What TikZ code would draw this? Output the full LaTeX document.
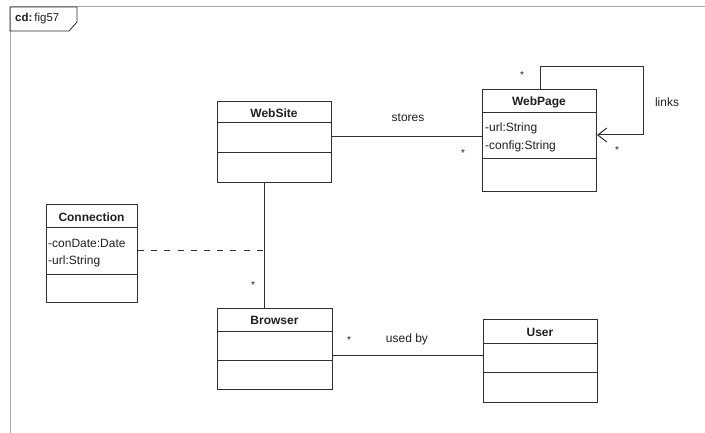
\documentclass[tikz,border=0pt]{standalone}
\usepackage{fontspec}
\setmainfont{Liberation Sans}
\usetikzlibrary{arrows.meta,calc}
\definecolor{edge}{HTML}{303030}
\definecolor{framegray}{HTML}{A8A8A8}
\definecolor{txt}{HTML}{202020}
\tikzset{
  classbox/.style={draw=edge, line width=1pt, inner sep=0pt, anchor=north west},
  cname/.style={font=\fontsize{12}{12}\selectfont\bfseries, text=txt, inner sep=0pt},
  attr/.style={font=\fontsize{12}{12}\selectfont, text=txt, inner sep=0pt, anchor=west},
  mult/.style={font=\fontsize{10}{10}\selectfont, text=txt, inner sep=0pt},
  lbl/.style={font=\fontsize{12}{12}\selectfont, text=txt, inner sep=0pt},
  assoc/.style={draw=edge, line width=1pt},
  divider/.style={draw=edge, line width=1pt}
}
\begin{document}
\begin{tikzpicture}[x=1pt,y=-1pt]
\useasboundingbox (0,0) rectangle (705,433);
\fill[white] (0,0) rectangle (705,433);

% diagram frame and its name tab
\draw[framegray, line width=1pt] (10,433) -- (10,7) -- (705,7);
\draw[edge, line width=0.8pt] (10,7) -- (77,7) -- (77,22) -- (69,31) -- (10,31) -- cycle;
\node[anchor=west, inner sep=0pt, font=\fontsize{11.5}{12}\selectfont, text=txt] (tab) at (15,19) {\textbf{cd:}\,fig57};

% classes
\node[classbox, minimum width=114pt, minimum height=81pt] (ws) at (217,101) {};
\node[classbox, minimum width=114pt, minimum height=102pt] (wp) at (482,89) {};
\node[classbox, minimum width=91pt, minimum height=98pt] (con) at (46,204) {};
\node[classbox, minimum width=115pt, minimum height=81pt] (br) at (217,308) {};
\node[classbox, minimum width=114pt, minimum height=83pt] (us) at (483,319) {};

% compartment dividers
\draw[divider] (217,123) -- (331,123) (217,153) -- (331,153);
\draw[divider] (482,113) -- (596,113) (482,159) -- (596,159);
\draw[divider] (46,228) -- (137,228) (46,274) -- (137,274);
\draw[divider] (217,331) -- (332,331) (217,360) -- (332,360);
\draw[divider] (483,343) -- (597,343) (483,372) -- (597,372);

% class names
\node[cname] (wsname) at (274,113) {WebSite};
\node[cname] (wpname) at (539,102) {WebPage};
\node[cname] (conname) at (91.5,217) {Connection};
\node[cname] (brname) at (274.5,320) {Browser};
\node[cname] (usname) at (540,332) {User};

% attributes
\node[attr] (wpa1) at (485,128) {-url:String};
\node[attr] (wpa2) at (485,146) {-config:String};
\node[attr] (cona1) at (48,243) {-conDate:Date};
\node[attr] (cona2) at (48,261) {-url:String};

% associations
\coordinate (storesy) at (0,137);
\draw[assoc] (ws.east |- storesy) -- (wp.west |- storesy);
\node[lbl] (stores) at (408,118) {stores};
\node[mult] (m1) at (463,153) {*};

\coordinate (linkx) at (540,0);
\coordinate (loopc) at (643,67);
\coordinate (loopd) at (643,135);
\draw[assoc, -{Straight Barb[length=9pt,width=14pt,line width=1pt]}]
  (wp.north -| linkx) |- (loopc) -- (loopd) -- (wp.east |- loopd);
\node[lbl] (links) at (667,102) {links};
\node[mult] (m2) at (522,75) {*};
\node[mult] (m3) at (617,150) {*};

\coordinate (vx) at (264,0);
\draw[assoc] (ws.south -| vx) -- (br.north -| vx);
\coordinate (dashy) at (0,251);
\draw[assoc, dash pattern=on 6pt off 7.2pt] (con.east |- dashy) -- (vx |- dashy);
\node[mult] (m4) at (253,285) {*};

\coordinate (usedy) at (0,355);
\draw[assoc] (br.east |- usedy) -- (us.west |- usedy);
\node[lbl] (usedby) at (407,339) {used by};
\node[mult] (m5) at (349,340) {*};
\end{tikzpicture}
\end{document}
